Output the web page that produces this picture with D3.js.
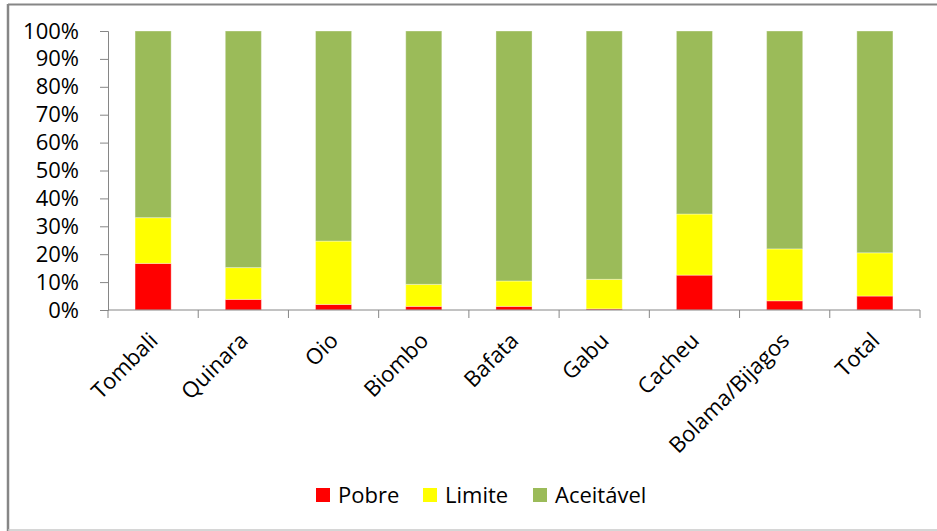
<!DOCTYPE html>
<html>
<head>
<meta charset="utf-8">
<script src="https://cdn.jsdelivr.net/npm/d3@7"></script>
<style>
  body { margin: 0; background: #fff; }
  svg { display: block; font-family: "Open Sans", "Noto Sans", sans-serif; }
</style>
</head>
<body>
<svg width="937" height="531"></svg>
<script>
var regions = ["Tombali", "Quinara", "Oio", "Biombo", "Bafata", "Gabu", "Cacheu", "Bolama/Bijagos", "Total"];
var pobre = [16.7, 3.8, 2.0, 1.3, 1.3, 0.4, 12.5, 3.3, 5.0];
var limite = [16.4, 11.4, 22.7, 7.9, 9.1, 10.6, 21.9, 18.6, 15.5];
var aceitavel = [66.9, 84.8, 75.3, 90.8, 89.6, 89.0, 65.6, 78.1, 79.5];
var seriesNames = ["Pobre", "Limite", "Aceitável"];
var yTicks = [0, 10, 20, 30, 40, 50, 60, 70, 80, 90, 100];

var svg = d3.select("svg"),
    width = +svg.attr("width"),
    height = +svg.attr("height");

var colors = d3.scaleOrdinal()
    .domain(seriesNames)
    .range(["#ff0000", "#ffff00", "#9bbb59"]);

// outer frame like the Excel chart area
svg.append("line").attr("x1", 8).attr("x2", 8).attr("y1", 4).attr("y2", 531)
    .attr("stroke", "#868686").attr("stroke-width", 2.5);
svg.append("line").attr("x1", 8).attr("x2", 937).attr("y1", 4.5).attr("y2", 4.5)
    .attr("stroke", "#868686").attr("stroke-width", 2);
svg.append("line").attr("x1", 8).attr("x2", 937).attr("y1", 530).attr("y2", 530)
    .attr("stroke", "#c8c8c8").attr("stroke-width", 1.5);

var x = d3.scaleBand()
    .domain(regions)
    .range([108, 920])
    .paddingInner(0.6)
    .paddingOuter(0.3);

var y = d3.scaleLinear()
    .domain([0, 100])
    .range([310, 31]);

var rows = regions.map(function(r, i) {
    return { region: r, "Pobre": pobre[i], "Limite": limite[i], "Aceitável": aceitavel[i] };
});
var stack = d3.stack().keys(seriesNames)(rows);

svg.append("g")
    .selectAll("g")
    .data(stack)
    .enter().append("g")
        .attr("fill", function(d) { return colors(d.key); })
    .selectAll("rect")
    .data(function(d) { return d; })
    .enter().append("rect")
        .attr("x", function(d) { return x(d.data.region); })
        .attr("y", function(d) { return y(d[1]); })
        .attr("width", x.bandwidth())
        .attr("height", function(d) { return y(d[0]) - y(d[1]); })
        .attr("stroke", "#ffffff")
        .attr("stroke-opacity", 0.35)
        .attr("stroke-width", 1);

// y axis
var yAxis = svg.append("g")
    .attr("transform", "translate(108,0)")
    .call(d3.axisLeft(y).tickValues(yTicks).tickSize(8).tickPadding(21)
        .tickFormat(function(d) { return d + "%"; }));
yAxis.select(".domain").attr("stroke", "#868686");
yAxis.selectAll(".tick line").attr("stroke", "#868686");
yAxis.selectAll("text").attr("font-size", 22).attr("fill", "#000")
    .attr("font-family", "'Open Sans', sans-serif");

// x axis with ticks between categories
var xAxis = svg.append("g").attr("transform", "translate(0,310)");
xAxis.append("line").attr("x1", 108).attr("x2", 920).attr("stroke", "#868686");
xAxis.selectAll(".sep")
    .data(d3.range(regions.length + 1))
    .enter().append("line")
        .attr("x1", function(i) { return 108 + i * (812 / regions.length); })
        .attr("x2", function(i) { return 108 + i * (812 / regions.length); })
        .attr("y1", 0).attr("y2", 8)
        .attr("stroke", "#868686");
xAxis.selectAll(".lbl")
    .data(regions)
    .enter().append("text")
        .attr("transform", function(d) {
            return "translate(" + (x(d) + x.bandwidth() / 2 + 6) + ",32) rotate(-45)";
        })
        .attr("text-anchor", "end")
        .attr("font-size", 22)
        .attr("fill", "#000")
        .text(function(d) { return d; });

// legend
var legendX = [316, 423, 533];
var legend = svg.append("g")
    .selectAll("g")
    .data(seriesNames)
    .enter().append("g")
        .attr("transform", function(d, i) { return "translate(" + legendX[i] + ",488)"; });
legend.append("rect")
    .attr("width", 14).attr("height", 14)
    .attr("fill", function(d) { return colors(d); });
legend.append("text")
    .attr("x", 22).attr("y", 15)
    .attr("font-size", 22)
    .attr("fill", "#000")
    .text(function(d) { return d; });
</script>
</body>
</html>
